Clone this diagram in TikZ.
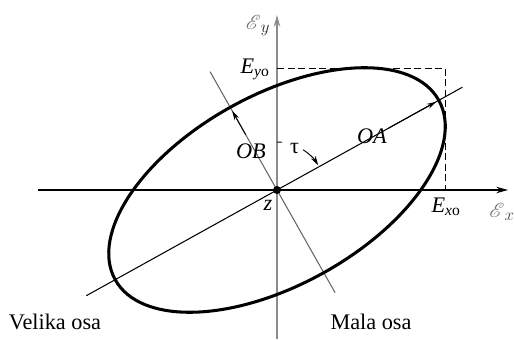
\documentclass[tikz,border=0pt]{standalone}
\usepackage{fontspec}
\setmainfont{Liberation Serif}
\usepackage{mathrsfs}
\usetikzlibrary{positioning,arrows.meta,calc}

\begin{document}
\begin{tikzpicture}[
      x=0.03cm, y=0.03cm,
      font=\fontsize{19}{22}\selectfont,
      >={Stealth[length=10pt,width=5.5pt]},
      axisline/.style={line width=0.9pt},
      grayline/.style={line width=1.1pt, black!45},
      minorline/.style={line width=0.9pt, black!60},
      polar/.style={line width=2.6pt},
      guide/.style={line width=0.8pt, dash pattern=on 6pt off 3pt},
      small/.style={line width=0.8pt, -{Stealth[length=8pt,width=4.5pt]}},
      lbl/.style={inner sep=1pt},
      scr/.style={inner sep=1pt}
  ]
    \useasboundingbox (-277,-149) rectangle (237,190);

    % centre and axis ends
    \coordinate (z) at (0,0);
    \coordinate (xl) at (-239,0);
    \coordinate (xr) at (231,0);
    \coordinate (yb) at (0,-149);
    \coordinate (yt) at (0,175);

    % major and minor axes of the ellipse
    \coordinate (va) at (209:218);
    \coordinate (vb) at (29:212);
    \coordinate (A) at (29:182);
    \coordinate (ma) at (119.5:136);
    \coordinate (mb) at (-60.5:118);
    \coordinate (B) at (119.5:91);

    % field amplitudes
    \coordinate (eyo) at (0,122);
    \coordinate (exo) at (168,0);

    \draw[grayline, ->] (yb) -- (yt);
    \draw[minorline] (ma) -- (mb);
    \draw[axisline, ->] (xl) -- (xr);
    \draw[axisline] (va) -- (vb);
    \draw[guide] (eyo) -| (exo);

    \draw[polar, rotate=29] (z) ellipse[x radius=185, y radius=95];

    \draw[small] ($(z)!0.7!(A)$) -- (A);
    \draw[small] ($(z)!0.7!(B)$) -- (B);

    % angle tau
    \draw[line width=0.8pt] (90:48) arc[start angle=90, end angle=84, radius=48];
    \draw[small] (57:48) arc[start angle=57, end angle=31, radius=48];
    \node[lbl] (tau) at (67:45) {τ};

    \fill (z) circle (4);

    \node[scr] (ey) at (-19,164) {$\textcolor{black!55}{\mathscr{E}}_{\textcolor{black!85}{y}}$};
    \node[scr] (ex) at (225,-22) {$\textcolor{black!55}{\mathscr{E}}_{\textcolor{black!70}{x}}$};
    \node[lbl] (Eyo) at (-22,121) {\textit{E}\textsubscript{\textit{y}o}};
    \node[lbl] (Exo) at (169,-17) {\textit{E}\textsubscript{\textit{x}o}};
    \node[lbl] (OB) at (-26,39) {\textit{OB}};
    \node[lbl] (OA) at (95,54) {\textit{OA}};
    \node[lbl] (zl) at (-9,-15) {\textit{z}};
    \node[lbl] (velika) at (-222,-132) {Velika osa};
    \node[lbl] (mala) at (94,-132) {Mala osa};
  \end{tikzpicture}
\end{document}
